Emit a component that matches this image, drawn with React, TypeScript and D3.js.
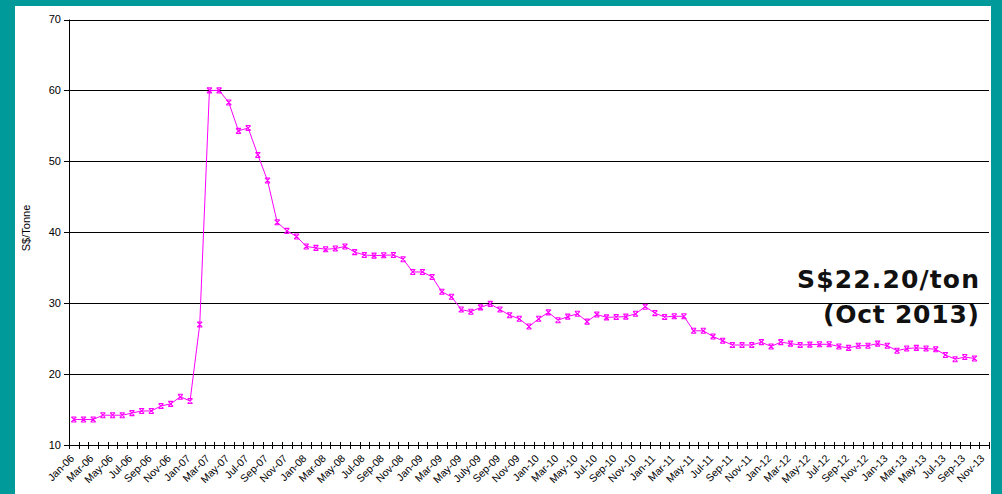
import React from "react";
import * as d3 from "d3";

const monthCount = 95; // Jan-06 .. Nov-13 categories
const tickLabels = [
  "Jan-06","Mar-06","May-06","Jul-06","Sep-06","Nov-06",
  "Jan-07","Mar-07","May-07","Jul-07","Sep-07","Nov-07",
  "Jan-08","Mar-08","May-08","Jul-08","Sep-08","Nov-08",
  "Jan-09","Mar-09","May-09","July-09","Sep-09","Nov-09",
  "Jan-10","Mar-10","May-10","Jul-10","Sep-10","Nov-10",
  "Jan-11","Mar-11","May-11","Jul-11","Sep-11","Nov-11",
  "Jan-12","Mar-12","May-12","Jul-12","Sep-12","Nov-12",
  "Jan-13","Mar-13","May-13","Jul-13","Sep-13","Nov-13",
];
const prices = [
  13.6, 13.6, 13.6, 14.2, 14.2, 14.2, 14.5, 14.8, 14.8, 15.5, 15.8, 16.8,
  16.2, 27.0, 60.0, 60.0, 58.3, 54.3, 54.7, 50.9, 47.3, 41.4, 40.2, 39.4,
  38.0, 37.8, 37.6, 37.7, 38.0, 37.2, 36.8, 36.7, 36.75, 36.8, 36.2, 34.4,
  34.4, 33.7, 31.6, 30.9, 29.1, 28.8, 29.4, 29.9, 29.1, 28.3, 27.8, 26.7,
  27.8, 28.7, 27.6, 28.1, 28.5, 27.4, 28.4, 28.0, 28.05, 28.1, 28.5, 29.5,
  28.6, 28.05, 28.15, 28.15, 26.1, 26.1, 25.3, 24.7, 24.1, 24.1, 24.1, 24.5,
  23.9, 24.5, 24.3, 24.1, 24.15, 24.2, 24.2, 23.9, 23.7, 24.0, 24.0, 24.3,
  24.0, 23.3, 23.6, 23.7, 23.6, 23.5, 22.7, 22.1, 22.4, 22.2,
];
const yTicks = [10, 20, 30, 40, 50, 60, 70];
const yTitle = "S$/Tonne";
const noteLines = ["S$22.20/ton", "(Oct 2013)"];

const W = 1002, H = 494;
const left = 69, right = 989, top = 19.5, bottom = 445;

export default function App() {
  const x = d3.scaleBand<number>().domain(d3.range(monthCount)).range([left, right]).padding(0);
  const y = d3.scaleLinear().domain([10, 70]).range([bottom, top]);
  const bw = x.bandwidth();
  const cx = (i: number) => (x(i) as number) + bw / 2;
  const line = d3.line<number>().x((_, i) => cx(i)).y((d) => y(d));
  const font = "'Liberation Sans', Arial, sans-serif";
  const s = 2.5;
  return (
    <div style={{ position: "absolute", left: 0, top: 0 }}>
      <svg width={W} height={H} style={{ display: "block" }}>
        <rect x={0} y={0} width={W} height={H} fill="#009a9a" />
        <rect x={15} y={6} width={976} height={H - 6} fill="#ffffff" />
        {yTicks.filter((t) => t > 10).map((t) => (
          <line key={t} x1={left} x2={right} y1={Math.round(y(t)) + 0.5} y2={Math.round(y(t)) + 0.5} stroke="#000" strokeWidth={1} />
        ))}
        {yTicks.map((t) => (
          <g key={"yt" + t}>
            <line x1={left - 5} x2={left} y1={Math.round(y(t)) + 0.5} y2={Math.round(y(t)) + 0.5} stroke="#000" />
            <text x={left - 8} y={y(t)} dy="0.35em" textAnchor="end" fontSize={11} fontFamily={font} fill="#000">{t}</text>
          </g>
        ))}
        <line x1={left + 0.5} x2={left + 0.5} y1={top} y2={bottom} stroke="#000" />
        <line x1={left} x2={right} y1={bottom + 0.5} y2={bottom + 0.5} stroke="#000" />
        {d3.range(monthCount + 1).map((k) => {
          const xx = Math.round(left + k * bw) + 0.5;
          return <line key={"xt" + k} x1={xx} x2={xx} y1={bottom - 3} y2={bottom + 4} stroke="#000" />;
        })}
        {tickLabels.map((lab, j) => {
          const px = cx(j * 2) + 1;
          const py = bottom + 14;
          return (
            <text key={lab} x={px} y={py} transform={`rotate(-45 ${px} ${py})`} textAnchor="end" fontSize={10.5} fontFamily={font} fill="#000">{lab}</text>
          );
        })}
        <text x={0} y={0} transform={`translate(30 228) rotate(-90)`} textAnchor="middle" fontSize={11} fontFamily={font} fill="#000">{yTitle}</text>
        <path d={line(prices) || ""} fill="none" stroke="#ff00ff" strokeWidth={1} />
        {prices.map((v, i) => (
          <path key={"m" + i} transform={`translate(${cx(i)},${y(v)})`} d={`M${-s},${-s}L${s},${s}M${s},${-s}L${-s},${s}M${-s},${-s}H${s}M${-s},${s}H${s}`} stroke="#ff00ff" strokeWidth={1.1} fill="none" />
        ))}
        {noteLines.map((t, i) => (
          <text key={t} x={979} y={288 + i * 35} textAnchor="end" fontSize={25} fontWeight="bold" fontFamily="'DejaVu Sans', Verdana, sans-serif" fill="#111" textLength={i === 0 ? 182 : 156} lengthAdjust="spacing">{t}</text>
        ))}
      </svg>
    </div>
  );
}
